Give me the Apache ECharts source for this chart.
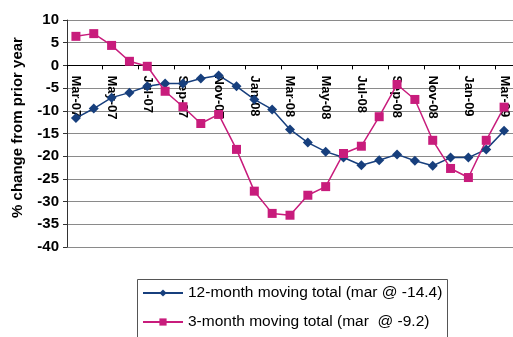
<!DOCTYPE html>
<html>
<head>
<meta charset="utf-8">
<script src="https://cdn.jsdelivr.net/npm/echarts@6/dist/echarts.min.js"></script>
<style>
  html, body { margin: 0; padding: 0; background: #fff; }
  #chart { width: 513px; height: 337px; }
</style>
</head>
<body>
<div id="chart"></div>
<script>
// Months Mar-07 .. Mar-09
const months = ['Mar-07','Apr-07','May-07','Jun-07','Jul-07','Aug-07','Sep-07','Oct-07','Nov-07','Dec-07',
  'Jan-08','Feb-08','Mar-08','Apr-08','May-08','Jun-08','Jul-08','Aug-08','Sep-08','Oct-08','Nov-08','Dec-08',
  'Jan-09','Feb-09','Mar-09'];

// % change from prior year
const total12 = [-11.6, -9.5, -7.1, -6.0, -4.6, -4.0, -4.0, -2.9, -2.2, -4.6,
  -7.5, -9.7, -14.1, -17.0, -19.0, -20.3, -22.0, -20.9, -19.6, -21.0, -22.1, -20.3,
  -20.3, -18.5, -14.4];
const total3 = [6.4, 7.0, 4.4, 0.9, -0.2, -5.7, -9.1, -12.8, -10.8, -18.5,
  -27.7, -32.6, -33.0, -28.6, -26.7, -19.4, -17.8, -11.3, -4.2, -7.5, -16.5, -22.7,
  -24.7, -16.5, -9.2];

const yTicks = { min: -40, max: 10, step: 5 };
const seriesNames = ['12-month moving total (mar @ -14.4)', '3-month moving total (mar  @ -9.2)'];

const BLUE = '#173f7d';
const PINK = '#c81c7c';
const FONT = 'Liberation Sans, Arial, sans-serif';

const chart = echarts.init(document.getElementById('chart'), null, { renderer: 'canvas' });
chart.setOption({
  animation: false,
  backgroundColor: '#fff',
  grid: { left: 67, top: 20, bottom: 90, right: -5, containLabel: false },
  xAxis: {
    type: 'category',
    data: months,
    boundaryGap: true,
    position: 'bottom',
    offset: 0,
    axisLine: { onZero: false, lineStyle: { color: '#000', width: 1 } },
    axisTick: { show: true, interval: 1, length: 4, lineStyle: { color: '#000' } },
    axisLabel: {
      interval: 1, rotate: -90, margin: 10,
      color: '#000', fontFamily: FONT, fontSize: 13, fontWeight: 'bold'
    },
    splitLine: { show: false }
  },
  yAxis: {
    type: 'value',
    min: yTicks.min, max: yTicks.max, interval: yTicks.step,
    name: '% change from prior year',
    nameLocation: 'middle',
    nameGap: 42,
    nameTextStyle: {
      color: '#000', fontFamily: FONT, fontSize: 15, fontWeight: 'bold',
      padding: [0, 0, 0, 12]
    },
    axisLine: { show: true, lineStyle: { color: '#333', width: 1 } },
    axisTick: { show: true, length: 4, lineStyle: { color: '#333' } },
    axisLabel: { color: '#000', fontFamily: FONT, fontSize: 15, fontWeight: 'bold', margin: 8 },
    splitLine: { show: true, lineStyle: { color: '#8a8a8a', width: 1 } }
  },
  legend: {
    orient: 'vertical',
    left: 142, top: 285, height: 70,
    padding: 0,
    itemWidth: 40, itemHeight: 9, itemGap: 13,
    textStyle: { color: '#000', fontFamily: FONT, fontSize: 15.5 },
    data: seriesNames
  },
  graphic: [{
    type: 'rect',
    shape: { x: 137.5, y: 279.5, width: 310, height: 80 },
    style: { fill: 'none', stroke: '#555', lineWidth: 1 },
    z: 100
  }],
  series: [
    {
      name: seriesNames[0], type: 'line', data: total12,
      symbol: 'diamond', symbolSize: 10,
      lineStyle: { color: BLUE, width: 1.5 },
      itemStyle: { color: BLUE }
    },
    {
      name: seriesNames[1], type: 'line', data: total3,
      symbol: 'rect', symbolSize: 9,
      lineStyle: { color: PINK, width: 1.5 },
      itemStyle: { color: PINK }
    }
  ]
});

// The category axis crosses the value axis at zero: shift it up from the
// bottom edge of the grid to the pixel row of y = 0.
const yBottom = chart.convertToPixel({ yAxisIndex: 0 }, yTicks.min);
const yZero = chart.convertToPixel({ yAxisIndex: 0 }, 0);
chart.setOption({ xAxis: { offset: -(yBottom - yZero) } });
</script>
</body>
</html>
